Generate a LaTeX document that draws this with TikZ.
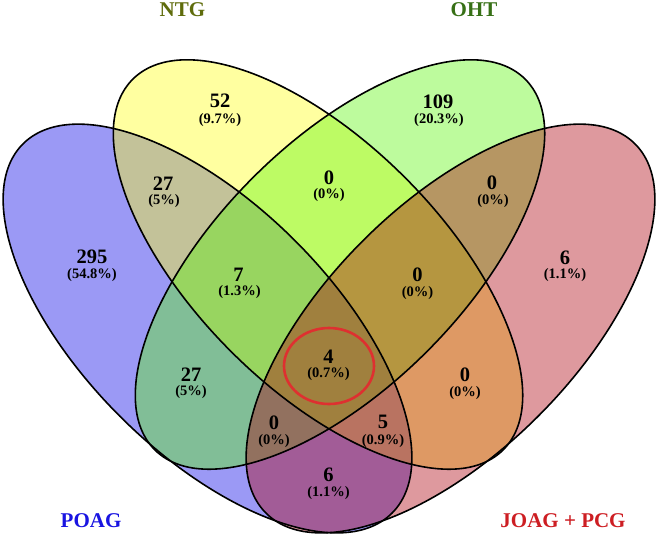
\documentclass[tikz,border=0pt]{standalone}
\usepackage{fontspec}
\setmainfont{Liberation Serif}
\definecolor{cPOAG}{RGB}{5,0,230}
\definecolor{cNTG}{RGB}{255,255,17}
\definecolor{cOHT}{RGB}{90,245,10}
\definecolor{cJOAG}{RGB}{172,0,12}
\definecolor{tPOAG}{RGB}{25,20,225}
\definecolor{tNTG}{RGB}{95,108,12}
\definecolor{tOHT}{RGB}{55,112,22}
\definecolor{tJOAG}{RGB}{205,30,35}
\definecolor{ring}{RGB}{222,48,48}
\begin{document}
\begin{tikzpicture}[x=1pt,y=-1pt,
  num/.style={font=\bfseries\fontsize{20.5}{22}\selectfont, inner sep=0pt},
  pct/.style={font=\bfseries\fontsize{14.5}{16}\selectfont, inner sep=0pt},
  cat/.style={font=\bfseries\fontsize{21}{24}\selectfont, inner sep=0pt},
  setfill/.style={fill opacity=0.4, draw=none},
  setline/.style={draw=black, line width=1.6pt},
  outer/.style={x radius=261pt, y radius=124pt},
  inner/.style={x radius=262pt, y radius=123pt}]
\useasboundingbox (0,0) rectangle (658,536);
% fills
\path[setfill, fill=cPOAG, rotate around={-45:(207.5,328.5)}] (207.5,328.5) ellipse [outer];
\path[setfill, fill=cNTG, rotate around={-45:(318,264.5)}] (318,264.5) ellipse [inner];
\path[setfill, fill=cOHT, rotate around={45:(340,264.5)}] (340,264.5) ellipse [inner];
\path[setfill, fill=cJOAG, rotate around={45:(450.5,328.5)}] (450.5,328.5) ellipse [outer];
% outlines
\path[setline, rotate around={-45:(207.5,328.5)}] (207.5,328.5) ellipse [outer];
\path[setline, rotate around={-45:(318,264.5)}] (318,264.5) ellipse [inner];
\path[setline, rotate around={45:(340,264.5)}] (340,264.5) ellipse [inner];
\path[setline, rotate around={45:(450.5,328.5)}] (450.5,328.5) ellipse [outer];
% highlight ring
\draw[ring, line width=2.6pt] (329,366) ellipse [x radius=45pt, y radius=38pt];
% counts
\node[num] (n1) at (220,100.5) {52};    \node[pct] (p1) at (220,120.5) {(9.7\%)};
\node[num] (n2) at (438,101.5) {109};   \node[pct] (p2) at (439,120) {(20.3\%)};
\node[num] (n3) at (163,183.5) {27};    \node[pct] (p3) at (164,201.5) {(5\%)};
\node[num] (n4) at (329,177.5) {0};     \node[pct] (p4) at (329,195.5) {(0\%)};
\node[num] (n5) at (492,183) {0};       \node[pct] (p5) at (493,201) {(0\%)};
\node[num] (n6) at (92,256.5) {295};    \node[pct] (p6) at (92,275) {(54.8\%)};
\node[num] (n7) at (238.5,274.5) {7};   \node[pct] (p7) at (239.5,292.5) {(1.3\%)};
\node[num] (n8) at (417.5,274.5) {0};   \node[pct] (p8) at (417.5,293) {(0\%)};
\node[num] (n9) at (565,257.5) {6};     \node[pct] (p9) at (565,275.5) {(1.1\%)};
\node[num] (n10) at (191,374.5) {27};   \node[pct] (p10) at (191,392.5) {(5\%)};
\node[num] (n11) at (328.5,357) {4};    \node[pct] (p11) at (328.5,374.5) {(0.7\%)};
\node[num] (n12) at (465,374.5) {0};    \node[pct] (p12) at (465,393) {(0\%)};
\node[num] (n13) at (274,422.5) {0};    \node[pct] (p13) at (274,441) {(0\%)};
\node[num] (n14) at (383,422) {5};      \node[pct] (p14) at (383,441) {(0.9\%)};
\node[num] (n15) at (328.5,475) {6};    \node[pct] (p15) at (328.5,493.5) {(1.1\%)};
% category labels
\node[cat, text=tNTG] (cNTGl) at (182.5,10) {NTG};
\node[cat, text=tOHT] (cOHTl) at (474,10) {OHT};
\node[cat, text=tPOAG] (cPOAGl) at (91,521) {POAG};
\node[cat, text=tJOAG] (cJOAGl) at (563,521) {JOAG + PCG};
\end{tikzpicture}
\end{document}
